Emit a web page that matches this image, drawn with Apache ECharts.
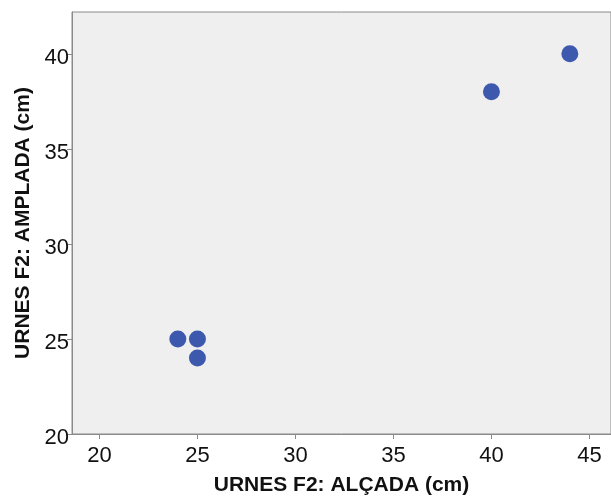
<!DOCTYPE html>
<html>
<head>
<meta charset="utf-8">
<script src="https://cdn.jsdelivr.net/npm/echarts@6/dist/echarts.min.js"></script>
<style>html,body{margin:0;padding:0;background:#fff}#c{width:611px;height:497px}</style>
</head>
<body>
<div id="c"></div>
<script>
var alcada = [24, 25, 25, 40, 44];
var amplada = [25, 25, 24, 38, 40];
var xTicks = [20, 25, 30, 35, 40, 45];
var yTicks = [20, 25, 30, 35, 40];
var xName = 'URNES F2: ALÇADA (cm)';
var yName = 'URNES F2: AMPLADA (cm)';

var pts = alcada.map(function (v, i) { return [v, amplada[i]]; });
var chart = echarts.init(document.getElementById('c'));
var font = 'Liberation Sans, Arial, sans-serif';
chart.setOption({
  animation: false,
  grid: { left: 72, top: 12, right: 0, bottom: 63, outerBoundsMode: 'none', containLabel: false, show: true, backgroundColor: '#efefef', borderColor: '#8a8a8a', borderWidth: 1 },
  xAxis: {
    type: 'value', min: 18.6, max: 46.1,
    name: xName, nameLocation: 'middle', nameGap: 41,
    nameTextStyle: { fontFamily: font, fontSize: 21, fontWeight: 'bold', color: '#111' },
    axisLine: { show: true, lineStyle: { color: '#8a8a8a' } },
    axisTick: { show: true, length: 5, customValues: xTicks, lineStyle: { color: '#8a8a8a' } },
    axisLabel: { customValues: xTicks, fontFamily: font, fontSize: 22, color: '#111', margin: 11 },
    splitLine: { show: false }
  },
  yAxis: {
    type: 'value', min: 20, max: 42.2,
    name: yName, nameLocation: 'middle', nameGap: 34,
    nameTextStyle: { fontFamily: font, fontSize: 21, fontWeight: 'bold', color: '#111' },
    axisLine: { show: true, lineStyle: { color: '#8a8a8a' } },
    axisTick: { show: true, length: 5, customValues: yTicks, lineStyle: { color: '#8a8a8a' } },
    axisLabel: {
      customValues: yTicks, margin: 3,
      formatter: function (v) { return '{a|' + v + '}'; },
      rich: { a: { fontFamily: font, fontSize: 22, color: '#111', padding: [8, 0, 0, 0] } }
    },
    splitLine: { show: false }
  },
  series: [{
    type: 'scatter', data: pts, symbolSize: 17,
    itemStyle: { color: '#3d59ad', opacity: 1 }
  }]
});
</script>
</body>
</html>
